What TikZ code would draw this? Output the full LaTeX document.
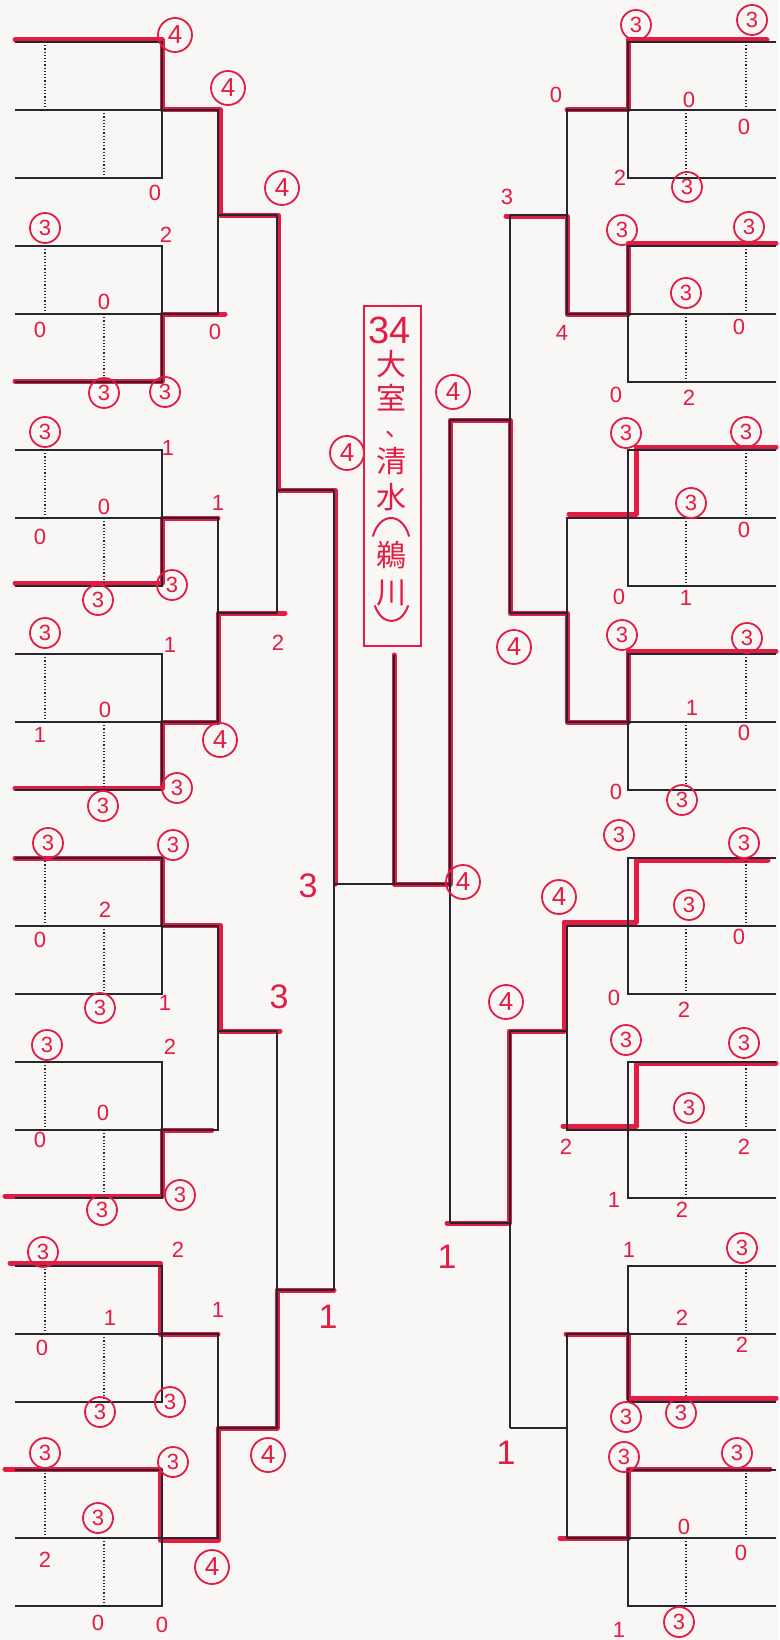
\documentclass[tikz,border=0pt]{standalone}
\usepackage{fontspec}
\setmainfont{Liberation Sans}
\newfontfamily\jpfont{Noto Sans CJK JP}
\usetikzlibrary{positioning}
\definecolor{pen}{RGB}{226,28,66}
\definecolor{ink}{RGB}{38,38,48}
\definecolor{paper}{RGB}{249,246,246}
\newcommand{\scorefont}{\fontsize{22}{24}\selectfont}
\newcommand{\bigscorefont}{\fontsize{34}{36}\selectfont}

\begin{document}
\begin{tikzpicture}[x=1pt, y=-1pt,
  rule/.style={draw=ink, line width=1.3pt},
  dotrule/.style={draw=ink, line width=1.2pt, dotted},
  win/.style={draw=pen, line width=5pt, line cap=round, line join=round},
  frame/.style={draw=pen, line width=1.2pt},
  hand/.style={draw=pen, line width=2pt, line cap=round},
  sc/.style={text=pen, font=\scorefont, inner sep=0pt},
  bigsc/.style={text=pen, font=\bigscorefont, inner sep=0pt},
  ring/.style={circle, draw=pen, line width=1.8pt, text=pen, font=\scorefont, inner sep=0pt, minimum size=30pt},
  bigring/.style={ring, minimum size=34pt, font=\fontsize{26}{28}\selectfont},
  jp/.style={text=pen, font=\jpfont\fontsize{30}{30}\selectfont, inner sep=0pt}]
\fill[paper] (0,0) rectangle (779,1640);
\useasboundingbox (0,0) rectangle (779,1640);

% winners (red marker)
\draw[win] (15,40) -| (162,110) -- (220,110) |- (278,215) |- (335,490) -- (335,884);
\draw[win] (15,381) -| (162,314) -- (225,314);
\draw[win] (15,583) -| (162,518) -- (218,518);
\draw[win] (15,788) -| (162,722) -| (218,613) -- (285,613);
\draw[win] (15,858) -| (162,925) -| (220,1031) -- (280,1031);
\draw[win] (5,1196) -| (162,1130) -- (212,1130);
\draw[win] (10,1263) -| (160,1334) -- (218,1334);
\draw[win] (5,1469) -| (160,1540) -| (218,1428) -| (277,1290) -- (334,1290);
\draw[win] (767,40) -| (628,110) -- (567,110);
\draw[win] (776,243) -| (628,314) -| (567,216) -- (506,216);
\draw[win] (776,447) -| (636,514) -- (569,514);
\draw[win] (776,651) -| (628,722) -| (567,613) -| (510,420) -| (450,884) -- (394,884) -- (394,655);
\draw[win] (768,860) -| (636,922) -| (564,1031) -| (509,1223) -- (447,1223);
\draw[win] (776,1063) -| (636,1126) -- (563,1126);
\draw[win] (776,1398) -| (628,1334) -- (566,1334);
\draw[win] (770,1469) -| (628,1538) -- (560,1538);

% printed bracket
\foreach \k in {0,...,7}{
  \pgfmathsetmacro{\ta}{42+204*\k}
  \pgfmathsetmacro{\tb}{\ta+68}
  \pgfmathsetmacro{\tc}{\ta+136}
  \draw[rule] (15,\ta) -| (162,\tc) -- (15,\tc);
  \draw[rule] (15,\tb) -- (162,\tb);
  \draw[dotrule] (45,\ta) -- (45,\tb);
  \draw[dotrule] (104,\tb) -- (104,\tc);
  \draw[rule] (776,\ta) -| (628,\tc) -- (776,\tc);
  \draw[rule] (776,\tb) -- (628,\tb);
  \draw[dotrule] (746,\ta) -- (746,\tb);
  \draw[dotrule] (686,\tb) -- (686,\tc);
}
\foreach \p/\o in {0/215, 1/613, 2/1031, 3/1428}{
  \pgfmathsetmacro{\ma}{110+408*\p}
  \pgfmathsetmacro{\mb}{314+408*\p}
  \draw[rule] (162,\ma) -| (218,\mb) -- (162,\mb);
  \draw[rule] (218,\o) -- (277,\o);
  \draw[rule] (628,\ma) -| (567,\mb) -- (628,\mb);
  \draw[rule] (567,\o) -- (510,\o);
}
\draw[rule] (277,215) -- (277,613);
\draw[rule] (277,1031) -- (277,1428);
\draw[rule] (277,490) -- (334,490);
\draw[rule] (277,1290) -- (334,1290);
\draw[rule] (510,215) -- (510,613);
\draw[rule] (510,1031) -- (510,1428);
\draw[rule] (510,420) -- (450,420);
\draw[rule] (510,1223) -- (450,1223);
\draw[rule] (334,490) -- (334,1290);
\draw[rule] (450,420) -- (450,1223);
\draw[rule] (334,884) -- (450,884);
\draw[rule] (394,884) -- (394,655);

% champion box
\draw[frame] (364,306) rectangle (421,646);
\node[text=pen, font=\fontsize{38}{38}\selectfont, inner sep=0pt] (num) at (390,330) {34};
\foreach \ch/\yy [count=\i] in {大/364, 室/398, 清/461, 水/497, 鵜/555, 川/593}{
  \node[jp] (ch\i) at (391,\yy) {\ch};
}
\node[text=pen, font=\jpfont\fontsize{24}{24}\selectfont, inner sep=0pt, anchor=base] (comma) at (397,436) {、};
\draw[hand] (373,536) .. controls (380,512) and (402,512) .. (409,536);
\draw[hand] (375,606) .. controls (382,626) and (401,626) .. (408,606);

% scores
\foreach \x/\y [count=\i] in {175/35, 228/88, 282/188, 220/740, 347/453, 463/882, 212/1567, 268/1455,
  514/647, 453/392, 559/897, 506/1002}{
  \node[bigring] (f\i) at (\x,\y) {4};
}
\foreach \x/\y [count=\i] in {45/228, 104/393, 165/392, 45/432, 98/600, 172/585, 45/633, 103/806, 177/788,
  48/843, 173/845, 100/1008, 47/1045, 102/1210, 180/1195, 43/1252, 100/1412, 170/1402, 45/1453, 173/1462, 98/1518,
  636/25, 752/20, 687/187, 622/230, 749/227, 686/293, 626/433, 746/432, 691/503, 622/635, 747/638, 682/800,
  619/835, 744/843, 689/905, 626/1040, 744/1043, 689/1108, 742/1248, 626/1417, 681/1413, 624/1457, 737/1453, 679/1622}{
  \node[ring] (t\i) at (\x,\y) {3};
}
\foreach \v/\x/\y [count=\i] in {0/155/193, 0/215/332, 2/278/643, 2/166/235, 0/104/302, 0/40/330, 1/168/448,
  0/104/507, 0/40/537, 1/218/503, 1/170/645, 0/105/710, 1/40/735, 2/105/910, 0/40/940, 1/165/1003,
  2/170/1047, 0/103/1113, 0/40/1140, 2/178/1250, 1/110/1318, 0/42/1348, 1/218/1310, 2/45/1560, 0/98/1623, 0/162/1625,
  0/689/100, 0/744/127, 2/620/178, 0/556/95, 4/562/333, 3/507/197, 0/739/327, 0/616/395, 2/689/398,
  0/744/530, 0/619/597, 1/686/598, 1/692/708, 0/744/733, 0/616/792, 0/739/937, 0/614/998, 2/684/1010,
  2/566/1147, 2/744/1147, 1/614/1200, 2/682/1210, 1/629/1250, 2/682/1318, 2/742/1345, 0/684/1527, 0/741/1553, 1/619/1630}{
  \node[sc] (s\i) at (\x,\y) {\v};
}
\foreach \v/\x/\y [count=\i] in {3/308/886, 3/279/997, 1/328/1317, 1/447/1257, 1/506/1453}{
  \node[bigsc] (b\i) at (\x,\y) {\v};
}
\end{tikzpicture}
\end{document}
